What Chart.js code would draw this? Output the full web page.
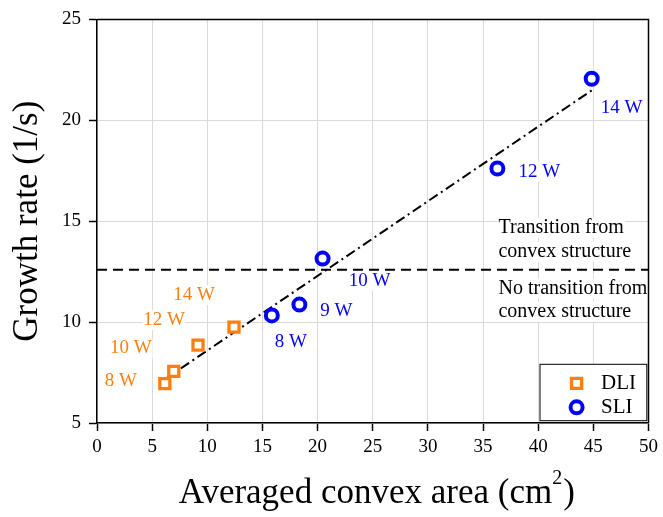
<!DOCTYPE html>
<html><head><meta charset="utf-8">
<script src="https://cdn.jsdelivr.net/npm/chart.js@4/dist/chart.umd.min.js"></script>
<style>html,body{margin:0;padding:0;background:#fff}#wrap{width:663px;height:517px}</style>
</head><body><div id="wrap"><canvas id="c" width="663" height="517"></canvas></div>
<script>
// ---- data ----
const dliArea  = [6.15, 6.96, 9.16, 12.42];
const dliRate  = [6.95, 7.56, 8.86, 9.75];
const dliPower = ['8 W', '10 W', '12 W', '14 W'];
const sliArea  = [15.85, 18.35, 20.45, 36.3, 44.85];
const sliRate  = [10.33, 10.87, 13.15, 17.61, 22.06];
const sliPower = ['8 W', '9 W', '10 W', '12 W', '14 W'];
const fitArea  = [6.1, 44.9];
const fitRate  = [7.15, 21.5];
const thresholdArea = [0, 50];
const thresholdRate = [12.6, 12.6];
const xTickValues = [0, 5, 10, 15, 20, 25, 30, 35, 40, 45, 50];
const yTickValues = [5, 10, 15, 20, 25];
const noteAbove = ['Transition from', 'convex structure'];
const noteBelow = ['No transition from', 'convex structure'];
const seriesNames = ['DLI', 'SLI'];
const xTitleMain = 'Averaged convex area (cm', xTitleSup = '2', xTitleEnd = ')';
const yTitle = 'Growth rate (1/s)';

// ---- styles / layout ----
const ORANGE = '#ff7f0e', BLUE = '#0000ff';
const SERIF = '"Liberation Serif", "Times New Roman", serif';
const dliLabelOffsets = [[-44, -3], [-43, -23], [-34, -25], [-40, -32]];
const sliLabelOffsets = [[19, 27], [37, 6], [47, 22], [42, 3], [30, 29]];
const noteAnchorX = 36.4;               // data x where notes start
const noteAboveDy = [-42, -18], noteBelowDy = [19, 42];

const pts = (xs, ys) => xs.map((x, i) => ({x, y: ys[i]}));

const annot = {
  id: 'annot',
  beforeDatasetsDraw(chart) {
    const {ctx, scales: {x, y}} = chart;
    ctx.save();
    ctx.font = '19px ' + SERIF;
    ctx.textAlign = 'center'; ctx.textBaseline = 'middle';
    const lab = (txt, px, py, col) => {
      const w = ctx.measureText(txt).width;
      ctx.fillStyle = '#fff'; ctx.fillRect(px - w / 2 - 1, py - 10, w + 2, 20);
      ctx.fillStyle = col; ctx.fillText(txt, px, py);
    };
    dliPower.forEach((t, i) => lab(t, x.getPixelForValue(dliArea[i]) + dliLabelOffsets[i][0], y.getPixelForValue(dliRate[i]) + dliLabelOffsets[i][1], ORANGE));
    sliPower.forEach((t, i) => lab(t, x.getPixelForValue(sliArea[i]) + sliLabelOffsets[i][0], y.getPixelForValue(sliRate[i]) + sliLabelOffsets[i][1], BLUE));
    // notes
    ctx.font = '20px ' + SERIF; ctx.textAlign = 'left';
    const nx = x.getPixelForValue(noteAnchorX), ny = y.getPixelForValue(thresholdRate[0]);
    const note = (txt, py) => {
      const w = ctx.measureText(txt).width;
      ctx.fillStyle = '#fff'; ctx.fillRect(nx - 1, py - 10, w + 2, 20);
      ctx.fillStyle = '#000'; ctx.fillText(txt, nx, py);
    };
    noteAbove.forEach((t, i) => note(t, ny + noteAboveDy[i]));
    noteBelow.forEach((t, i) => note(t, ny + noteBelowDy[i]));
    ctx.restore();
  },
  afterDraw(chart) {
    const {ctx, chartArea: a} = chart;
    ctx.save();
    // frame top/right
    ctx.strokeStyle = '#000'; ctx.lineWidth = 1.5;
    ctx.beginPath();
    ctx.moveTo(a.left, a.top); ctx.lineTo(a.right, a.top); ctx.lineTo(a.right, a.bottom);
    ctx.stroke();
    // x title with superscript
    ctx.fillStyle = '#000'; ctx.textBaseline = 'alphabetic'; ctx.textAlign = 'left';
    const fMain = '35px ' + SERIF, fSup = '20px ' + SERIF;
    ctx.font = fMain; const w1 = ctx.measureText(xTitleMain).width, w3 = ctx.measureText(xTitleEnd).width;
    ctx.font = fSup; const w2 = ctx.measureText(xTitleSup).width;
    const tot = w1 + w2 + 1 + w3;
    let tx = (a.left + a.right) / 2 + 4 - tot / 2;
    const base = a.bottom + 80;
    ctx.font = fMain; ctx.fillText(xTitleMain, tx, base); tx += w1;
    ctx.font = fSup; ctx.fillText(xTitleSup, tx, base - 19); tx += w2 + 1;
    ctx.font = fMain; ctx.fillText(xTitleEnd, tx, base);
    // legend
    const lx = a.right - 108.5, ly = a.bottom - 58.7, lw = 106.8, lh = 56.4;
    ctx.fillStyle = '#fff'; ctx.fillRect(lx, ly, lw, lh);
    ctx.strokeStyle = '#000'; ctx.lineWidth = 1; ctx.strokeRect(lx, ly, lw, lh);
    const ds = chart.data.datasets;
    [0, 1].forEach(i => {
      const d = ds[i];
      const cy = ly + 19 + i * 24;
      ctx.strokeStyle = d.borderColor; ctx.fillStyle = '#fff'; ctx.lineWidth = d.pointBorderWidth;
      Chart.helpers.drawPoint(ctx, {pointStyle: d.pointStyle, radius: d.pointRadius, borderWidth: d.pointBorderWidth}, lx + 36.6, cy);
      ctx.fillStyle = '#000'; ctx.font = '21px ' + SERIF; ctx.textAlign = 'left'; ctx.textBaseline = 'middle';
      ctx.fillText(seriesNames[i], lx + 61, cy);
    });
    ctx.restore();
  }
};

new Chart(document.getElementById('c'), {
  type: 'scatter',
  data: {datasets: [
    {label: seriesNames[0], data: pts(dliArea, dliRate), pointStyle: 'rect', pointRadius: 7.1, pointHoverRadius: 7.1,
     borderColor: ORANGE, backgroundColor: '#fff', pointBorderWidth: 3.3, order: 1},
    {label: seriesNames[1], data: pts(sliArea, sliRate), pointStyle: 'circle', pointRadius: 6, pointHoverRadius: 6,
     borderColor: BLUE, backgroundColor: '#fff', pointBorderWidth: 4, order: 1},
    {label: 'fit', type: 'line', data: pts(fitArea, fitRate), borderColor: '#000', borderWidth: 2,
     borderDash: [10, 4, 2, 4], pointRadius: 0, fill: false, order: 2},
    {label: 'threshold', type: 'line', data: pts(thresholdArea, thresholdRate), borderColor: '#000', borderWidth: 2,
     borderDash: [10, 6], pointRadius: 0, fill: false, order: 2}
  ]},
  options: {
    responsive: false, animation: false, devicePixelRatio: 1,
    layout: {padding: {top: 15, right: 13, left: 0, bottom: 0}},
    plugins: {legend: {display: false}, tooltip: {enabled: false}},
    scales: {
      x: {type: 'linear', min: 0, max: 50,
        afterBuildTicks: s => { s.ticks = xTickValues.map(v => ({value: v})); },
        afterFit: s => { s.height = 94; },
        ticks: {font: {family: SERIF, size: 19}, color: '#000', padding: 5, maxRotation: 0},
        grid: {color: '#dadada', lineWidth: 1, tickColor: '#000', tickLength: 8, tickWidth: 1.5},
        border: {color: '#000', width: 1.5},
        title: {display: false}
      },
      y: {type: 'linear', min: 5, max: 25,
        afterBuildTicks: s => { s.ticks = yTickValues.map(v => ({value: v})); },
        afterFit: s => { s.width = 97; },
        ticks: {font: {family: SERIF, size: 19}, color: '#000', padding: 8},
        grid: {color: '#dadada', lineWidth: 1, tickColor: '#000', tickLength: 8, tickWidth: 1.5},
        border: {color: '#000', width: 1.5},
        title: {display: true, text: yTitle, color: '#000',
          font: {family: SERIF, size: 35}, padding: {top: 7, bottom: 0}}
      }
    }
  },
  plugins: [annot]
});
</script></body></html>
